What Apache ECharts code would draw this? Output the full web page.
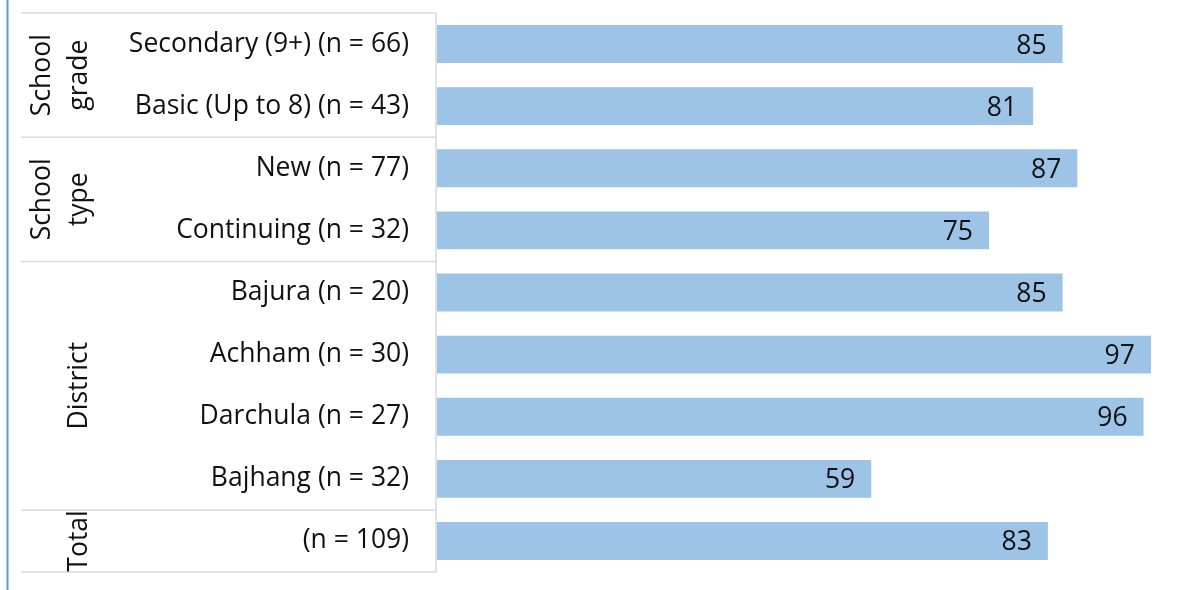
<!DOCTYPE html>
<html>
<head>
<meta charset="utf-8">
<script src="https://cdn.jsdelivr.net/npm/echarts@6/dist/echarts.min.js"></script>
<style>
  html, body { margin: 0; padding: 0; background: #ffffff; }
  #chart { width: 1192px; height: 590px; }
</style>
</head>
<body>
<div id="chart"></div>
<script>
// Row labels, top to bottom
const categories = [
  'Secondary (9+) (n = 66)',
  'Basic (Up to 8) (n = 43)',
  'New (n = 77)',
  'Continuing (n = 32)',
  'Bajura (n = 20)',
  'Achham (n = 30)',
  'Darchula (n = 27)',
  'Bajhang (n = 32)',
  '(n = 109)'
];
// Percentage for each row
const values = [85, 81, 87, 75, 85, 97, 96, 59, 83];
// Row groups and how many rows each spans
const groupNames = ['School\ngrade', 'School\ntype', 'District', 'Total'];
const groupSizes = [2, 2, 4, 1];

const FONT = '"Open Sans", "Noto Sans", sans-serif';
const FONT_SIZE = 26.5;
const chart = echarts.init(document.getElementById('chart'));

chart.setOption({
  animation: false,
  grid: { left: 437, right: 19, top: 13, bottom: 18 },
  xAxis: {
    type: 'value', min: 0, max: 100, show: false
  },
  yAxis: {
    type: 'category',
    data: categories,
    inverse: true,
    axisLine: { show: false },
    axisTick: { show: false },
    axisLabel: {
      margin: 28,
      fontFamily: FONT,
      fontSize: FONT_SIZE,
      color: '#111111',
      padding: [2, 0, 0, 0]
    }
  },
  series: [{
    type: 'bar',
    data: values,
    barCategoryGap: '39%',
    itemStyle: { color: '#9dc3e6' },
    label: {
      show: true,
      position: 'insideRight',
      distance: 16,
      offset: [0, 2],
      fontFamily: FONT,
      fontSize: FONT_SIZE,
      color: '#111111'
    }
  }]
});

// Table frame, group separators and rotated group titles
function drawTable() {
  const yAt = (i) => chart.convertToPixel({ yAxisIndex: 0 }, i);
  const rowH = yAt(1) - yAt(0);
  const edgeTop = yAt(0) - rowH / 2;
  const tableLeft = 21, tableRight = 436;
  const lineStyle = { stroke: '#d9d9d9', lineWidth: 1.5 };
  const els = [];

  // left accent rule
  els.push({ type: 'line', shape: { x1: 7.5, y1: 0, x2: 7.5, y2: 590 },
    style: { stroke: '#5b9bd5', lineWidth: 2 }, silent: true });

  // top and right frame
  els.push({ type: 'line', shape: { x1: tableLeft, y1: edgeTop, x2: tableRight, y2: edgeTop }, style: lineStyle });
  const totalRows = groupSizes.reduce((a, b) => a + b, 0);
  const edgeBottom = edgeTop + rowH * totalRows;
  els.push({ type: 'line', shape: { x1: tableRight, y1: edgeTop, x2: tableRight, y2: edgeBottom }, style: lineStyle });

  let start = 0;
  groupSizes.forEach((n, gi) => {
    const yTop = edgeTop + rowH * start;
    const yBot = yTop + rowH * n;
    els.push({ type: 'line', shape: { x1: tableLeft, y1: yBot, x2: tableRight, y2: yBot }, style: lineStyle });
    els.push({
      type: 'text',
      x: 98, y: (yTop + yBot) / 2,
      rotation: Math.PI / 2,
      style: {
        text: groupNames[gi],
        x: 0, y: 0,
        align: 'center', verticalAlign: 'bottom',
        fontFamily: FONT, fontSize: FONT_SIZE, lineHeight: 37,
        fill: '#111111'
      }
    });
    start += n;
  });

  chart.setOption({ graphic: { elements: els } });
}
drawTable();
</script>
</body>
</html>
